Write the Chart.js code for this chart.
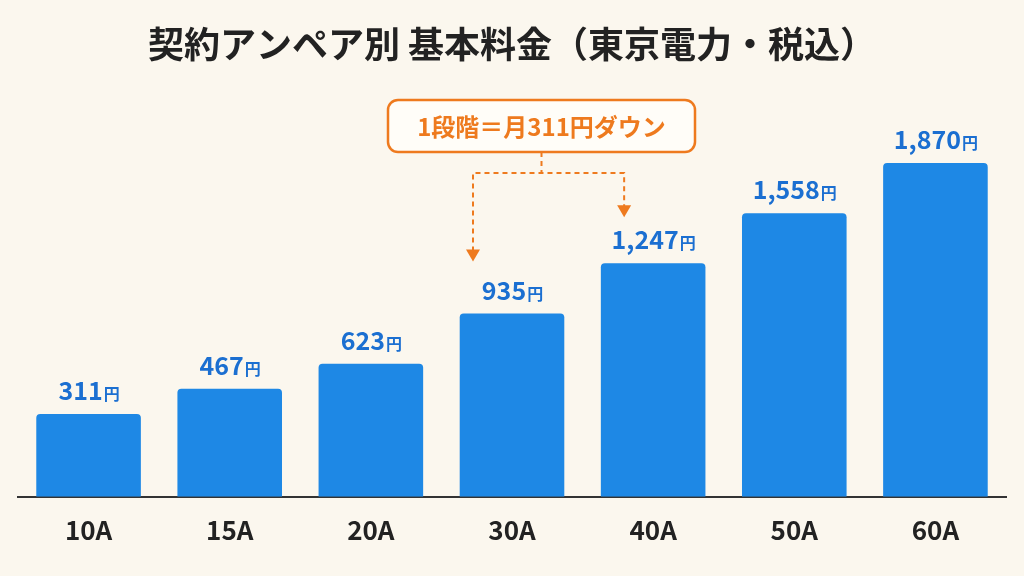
<!DOCTYPE html>
<html><head><meta charset="utf-8">
<script src="https://cdn.jsdelivr.net/npm/chart.js@4"></script>
<style>html,body{margin:0;background:#FBF7EE}canvas{display:block}</style>
</head><body>
<canvas id="c" width="1024" height="576"></canvas>
<script>
const categories = ['10A','15A','20A','30A','40A','50A','60A'];
const fees = [311,467,623,935,1247,1558,1870];
const titleText = '契約アンペア別 基本料金（東京電力・税込）';
const noteText = '1段階＝月311円ダウン';
const FONT = '"Noto Sans CJK JP","Noto Sans",sans-serif';

const deco = {
  id:'deco',
  afterDatasetsDraw(chart){
    const ctx = chart.ctx, meta = chart.getDatasetMeta(0);
    ctx.save();
    ctx.fillStyle='#222'; ctx.font='bold 36px '+FONT; ctx.textAlign='center'; ctx.textBaseline='middle';
    ctx.fillText(titleText, 512, 44);
    meta.data.forEach((b,i)=>{
      const num = fees[i].toLocaleString('en-US');
      ctx.font='bold 25px '+FONT; const w1=ctx.measureText(num).width;
      ctx.font='bold 16px '+FONT; const w2=ctx.measureText('円').width;
      const x0=b.x-(w1+w2)/2, y=b.y-14;
      ctx.fillStyle='#1B6FD1'; ctx.textAlign='left'; ctx.textBaseline='alphabetic';
      ctx.font='bold 25px '+FONT; ctx.fillText(num,x0,y);
      ctx.font='bold 16px '+FONT; ctx.fillText('円',x0+w1+1,y);
    });
    const orange='#EE7A1E';
    const bx=388,by=100,bw=307,bh=52;
    ctx.fillStyle='#FFFDF8'; ctx.strokeStyle=orange; ctx.lineWidth=2.5;
    ctx.beginPath(); ctx.roundRect(bx,by,bw,bh,10); ctx.fill(); ctx.stroke();
    ctx.fillStyle=orange; ctx.font='bold 24px '+FONT; ctx.textAlign='center'; ctx.textBaseline='middle';
    ctx.fillText(noteText,bx+bw/2,by+bh/2+1);
    const b30=meta.data[3], b40=meta.data[4];
    const xl=b30.x-39, xr=b40.x-29, cx=bx+bw/2, yh=173;
    const yl=b30.y-52, yr=b40.y-46;
    ctx.setLineDash([5,4]); ctx.lineWidth=2;
    ctx.beginPath(); ctx.moveTo(cx,by+bh); ctx.lineTo(cx,yh);
    ctx.moveTo(xl,yl-10); ctx.lineTo(xl,yh); ctx.lineTo(xr,yh); ctx.lineTo(xr,yr-10); ctx.stroke();
    ctx.setLineDash([]);
    [[xl,yl],[xr,yr]].forEach(([x,y])=>{ctx.beginPath();ctx.moveTo(x-7,y-12);ctx.lineTo(x+7,y-12);ctx.lineTo(x,y);ctx.closePath();ctx.fill();});
    ctx.restore();
  }
};

new Chart(document.getElementById('c'),{
  type:'bar',
  data:{labels:categories,datasets:[{data:fees,base:-204,backgroundColor:'#1E88E5',borderRadius:{topLeft:4,topRight:4},borderSkipped:'bottom',barPercentage:0.78,categoryPercentage:0.95}]},
  options:{
    responsive:false,animation:false,
    layout:{padding:{left:18,right:18,top:90,bottom:20}},
    plugins:{legend:{display:false},tooltip:{enabled:false}},
    scales:{
      x:{grid:{display:false},border:{display:true,color:'#333',width:2},
         ticks:{color:'#222',font:{family:FONT,size:26,weight:'bold'},padding:10}},
      y:{display:false,min:-204,max:2324}
    }
  },
  plugins:[deco]
});
</script>
</body></html>
